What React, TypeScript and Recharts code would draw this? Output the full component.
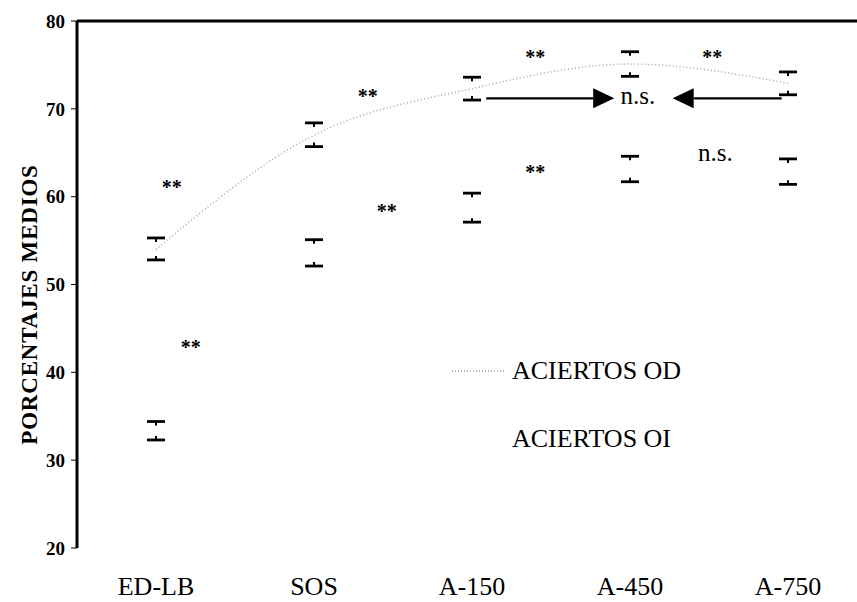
import React from "react";
import {
  ComposedChart, Line, Scatter, XAxis, YAxis, ReferenceLine, ReferenceDot,
} from "recharts";

const categories = ["ED-LB", "SOS", "A-150", "A-450", "A-750"];
const odMean = [54.0, 67.0, 72.3, 75.1, 72.9];
const odHigh = [55.3, 68.4, 73.6, 76.5, 74.2];
const odLow = [52.8, 65.7, 71.0, 73.7, 71.6];
const oiHigh = [34.4, 55.1, 60.4, 64.6, 64.3];
const oiLow = [32.3, 52.1, 57.1, 61.7, 61.4];
const yTicks = [20, 30, 40, 50, 60, 70, 80];
const bandTicks = [0, 1, 2, 3, 4, 5];

// significance marks, in data units (x = band index, y = percentage)
const marks = [
  { x: 0.6, y: 61.7, text: "**" },
  { x: 0.72, y: 43.4, text: "**" },
  { x: 1.84, y: 72.0, text: "**" },
  { x: 1.96, y: 58.9, text: "**" },
  { x: 2.9, y: 76.5, text: "**" },
  { x: 2.9, y: 63.4, text: "**" },
  { x: 4.02, y: 76.5, text: "**" },
  { x: 3.55, y: 71.2, text: "n.s." },
  { x: 4.04, y: 64.7, text: "n.s." },
];
const arrows = [
  { from: 2.59, to: 3.4, y: 71.2 },
  { from: 4.46, to: 3.77, y: 71.2 },
];

const data = categories.map((c, i) => ({
  x: i + 0.5,
  cat: c,
  od: odMean[i],
  odHi: odHigh[i],
  odLo: odLow[i],
  oiHi: oiHigh[i],
  oiLo: oiLow[i],
}));

const FONT = "Liberation Serif, Tinos, Times New Roman, serif";

const TopCap = (p: any) => (
  <g stroke="#000" strokeWidth={2.8}>
    <line x1={p.cx - 9} x2={p.cx + 9} y1={p.cy} y2={p.cy} />
    <line x1={p.cx} x2={p.cx} y1={p.cy} y2={p.cy + 4} strokeWidth={2} />
  </g>
);
const BottomCap = (p: any) => (
  <g stroke="#000" strokeWidth={2.8}>
    <line x1={p.cx - 9} x2={p.cx + 9} y1={p.cy} y2={p.cy} />
    <line x1={p.cx} x2={p.cx} y1={p.cy} y2={p.cy - 4} strokeWidth={2} />
  </g>
);

const Arrow = ({ x1, y1, x2, y2 }: any) => {
  const dir = x2 > x1 ? 1 : -1;
  const base = x2 - dir * 21;
  return (
    <g>
      <line x1={x1} y1={y1} x2={base} y2={y2} stroke="#000" strokeWidth={2.2} />
      <polygon points={`${x2},${y2} ${base},${y2 - 10} ${base},${y2 + 10}`} fill="#000" />
    </g>
  );
};

function LegendBox() {
  return (
    <div style={{ position: "absolute", left: 452, top: 356, fontFamily: FONT, fontSize: 26, color: "#000", lineHeight: "30px" }}>
      <div style={{ display: "flex", alignItems: "center" }}>
        <svg width={58} height={10} style={{ marginRight: 2 }}>
          <line x1={0} x2={54} y1={5} y2={5} stroke="#b0b0b0" strokeWidth={2} strokeDasharray="1 2" />
        </svg>
        <span>ACIERTOS OD</span>
      </div>
      <div style={{ marginTop: 38, paddingLeft: 60 }}>ACIERTOS OI</div>
    </div>
  );
}

export default function App() {
  return (
    <div style={{ position: "absolute", left: 0, top: 0, width: 857, height: 602, overflow: "hidden", background: "#fff" }}>
      <ComposedChart width={870} height={602} data={data} margin={{ top: 21, right: 3, bottom: 0, left: 0 }}>
        <XAxis
          xAxisId="bands" type="number" dataKey="x" domain={[0, 5]} ticks={bandTicks}
          height={0} tick={false} tickSize={6} axisLine={{ stroke: "#000", strokeWidth: 2.6 }}
          tickLine={{ stroke: "#000", strokeWidth: 1 }}
        />
        <XAxis
          xAxisId="labels" type="number" dataKey="x" domain={[0, 5]} ticks={data.map(d => d.x)}
          tickFormatter={(v: number) => categories[Math.floor(v)]}
          height={54} axisLine={false} tickLine={false} tickSize={0} tickMargin={29}
          tick={{ fontFamily: FONT, fontSize: 26, fill: "#000" }}
        />
        <YAxis
          domain={[20, 80]} ticks={yTicks} width={77} tickSize={6} tickMargin={6}
          axisLine={{ stroke: "#000", strokeWidth: 3 }} tickLine={{ stroke: "#000", strokeWidth: 1 }}
          tick={{ fontFamily: FONT, fontSize: 19, fontWeight: "bold", fill: "#000" }}
          label={{
            content: (props: any) => {
              const vb = props.viewBox;
              const cx = vb.x + 29;
              const cy = vb.y + vb.height / 2 + 20;
              return (
                <text transform={`translate(${cx},${cy}) rotate(-90)`} textAnchor="middle" dominantBaseline="central"
                  fontFamily={FONT} fontSize={23} fontWeight="bold" fill="#000" letterSpacing={0.8}>
                  PORCENTAJES MEDIOS
                </text>
              );
            },
          }}
        />
        <ReferenceLine xAxisId="labels" y={80} stroke="#000" strokeWidth={3} />

        <Line xAxisId="labels" dataKey="od" type="monotone" stroke="#aaaaaa" strokeWidth={1.6}
          strokeDasharray="1 2.5" dot={false} isAnimationActive={false} />
        <Scatter xAxisId="labels" dataKey="odHi" shape={TopCap} isAnimationActive={false} />
        <Scatter xAxisId="labels" dataKey="odLo" shape={BottomCap} isAnimationActive={false} />
        <Scatter xAxisId="labels" dataKey="oiHi" shape={TopCap} isAnimationActive={false} />
        <Scatter xAxisId="labels" dataKey="oiLo" shape={BottomCap} isAnimationActive={false} />

        {arrows.map((a, i) => (
          <ReferenceLine key={"a" + i} xAxisId="labels" segment={[{ x: a.from, y: a.y }, { x: a.to, y: a.y }]} shape={Arrow} />
        ))}
        {marks.map((m, i) => (
          <ReferenceDot
            key={"m" + i} xAxisId="labels" x={m.x} y={m.y}
            shape={(p: any) => (
              <text x={p.cx} y={p.cy + (m.text === "**" ? 12 : 6)} textAnchor="middle" fontFamily={FONT}
                fontSize={m.text === "**" ? 20 : 25} fontWeight={m.text === "**" ? "bold" : "normal"} fill="#000">
                {m.text}
              </text>
            )}
          />
        ))}
      </ComposedChart>
      <LegendBox />
    </div>
  );
}
